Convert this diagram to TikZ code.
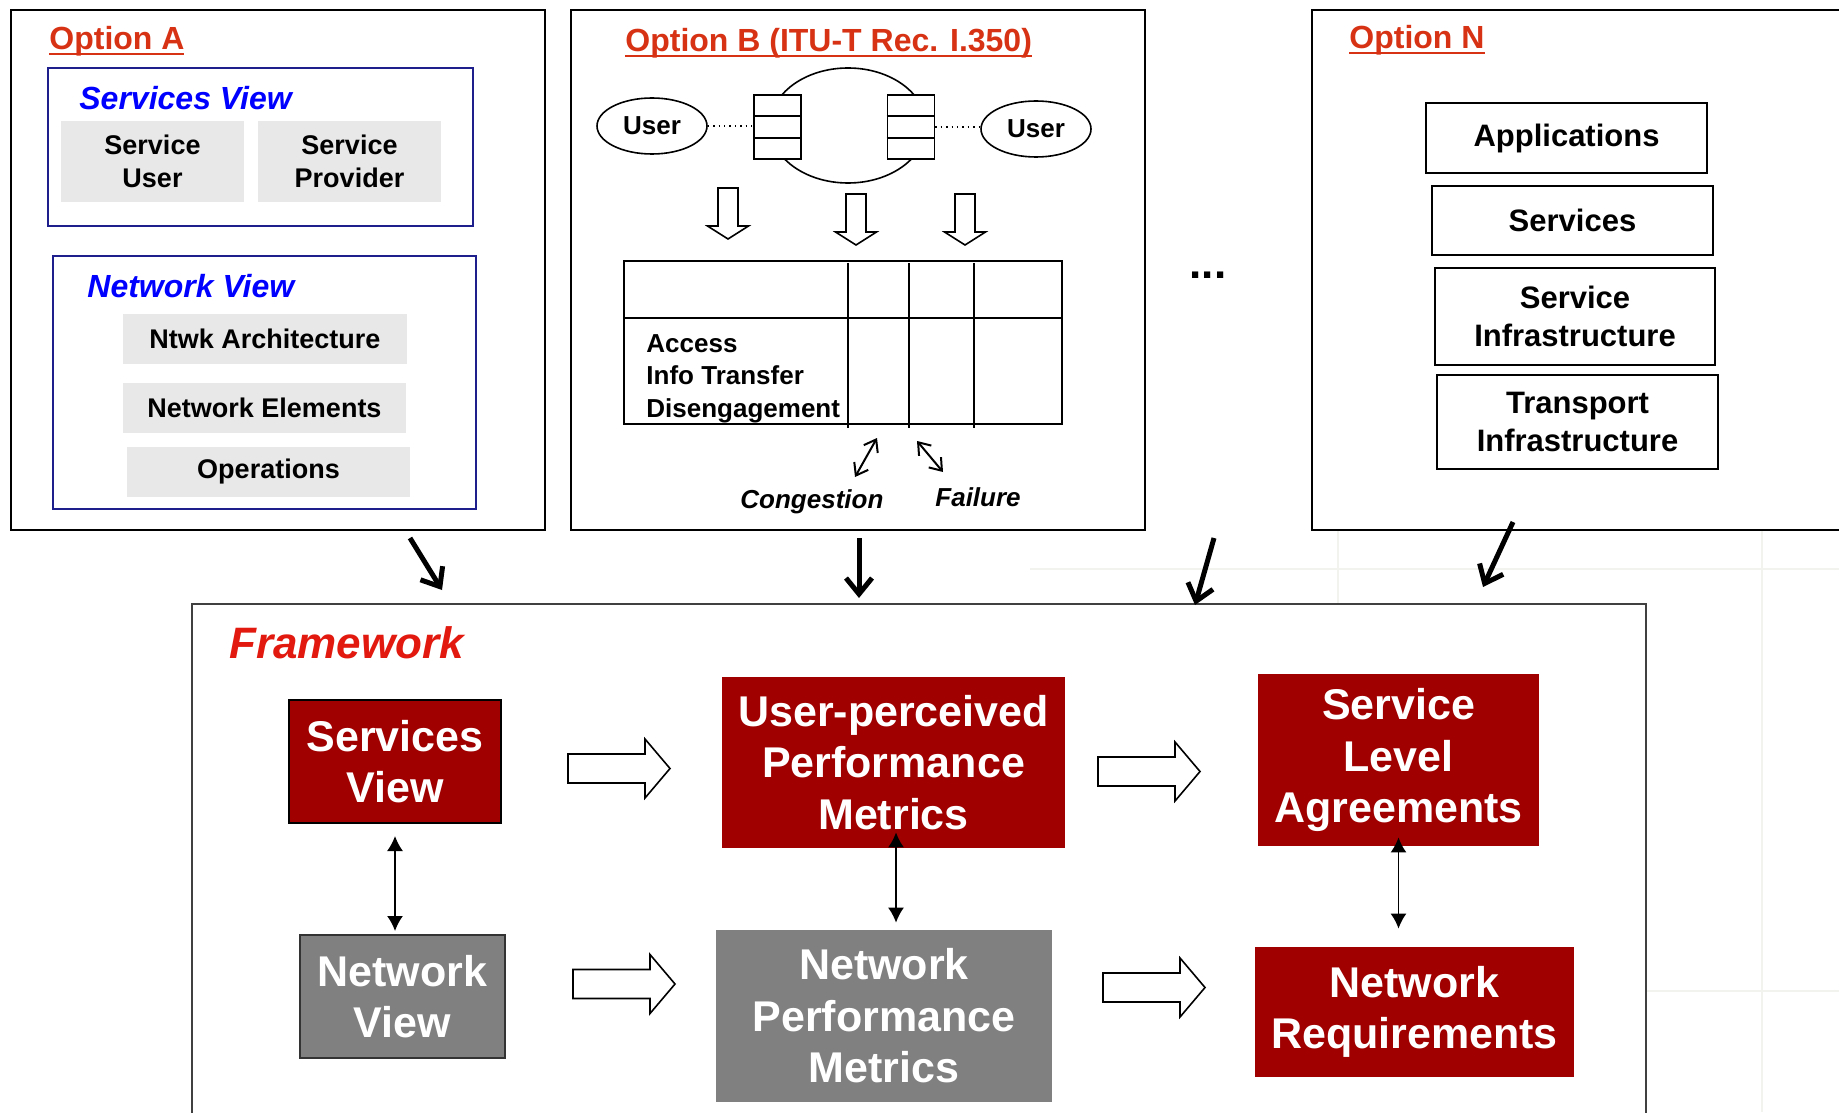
\documentclass[tikz,border=0pt]{standalone}
\usepackage{fontspec}
\setmainfont{Liberation Sans}
\usetikzlibrary{arrows.meta, positioning, shapes.geometric, calc}
\definecolor{darkred}{RGB}{160,0,0}
\definecolor{boxgray}{RGB}{128,128,128}
\definecolor{palegray}{RGB}{232,232,232}
\definecolor{titlered}{RGB}{215,50,20}
\definecolor{frameworkred}{RGB}{225,25,15}
\definecolor{viewblue}{RGB}{0,0,255}
\definecolor{navyline}{RGB}{30,30,140}
\definecolor{gridline}{RGB}{242,242,238}
% underline that sits close to the baseline
\newcommand{\optul}[1]{\setbox0\hbox{#1}\rlap{\rule[-2.4pt]{\wd0}{1.1pt}}\box0}
\tikzset{
  pics/fatarrow/.style args={#1/#2/#3/#4}{code={
    \draw[line width=0.8pt, fill=white, line join=miter]
      (0,-#2) -- ({#1-#4},-#2) -- ({#1-#4},-#3) -- (#1,0)
      -- ({#1-#4},#3) -- ({#1-#4},#2) -- (0,#2) -- cycle;
  }}
}

\begin{document}
\begin{tikzpicture}[x=0.5pt, y=-0.5pt,
    opt/.style={draw, line width=1pt, fill=white},
    ttl/.style={anchor=base west, inner sep=0pt, text=titlered,
                font=\fontsize{16}{19}\selectfont\bfseries},
    view/.style={anchor=base west, inner sep=0pt, text=viewblue,
                 font=\fontsize{16}{19}\selectfont\bfseries\itshape},
    viewbox/.style={draw=navyline, line width=1pt},
    gbox/.style={fill=palegray, inner sep=0pt, align=center,
                 font=\fontsize{13.5}{16.5}\selectfont\bfseries},
    layer/.style={draw, line width=1pt, inner sep=0pt, align=center,
                  font=\fontsize{15.5}{19}\selectfont\bfseries},
    usr/.style={draw, ellipse, line width=0.8pt, minimum width=55pt, minimum height=28pt,
                inner sep=0pt, font=\fontsize{13}{15}\selectfont\bfseries},
    queue/.style={draw, line width=0.8pt, fill=white, minimum width=23.5pt, minimum height=32pt},
    fwred/.style={fill=darkred, text=white, inner sep=0pt, align=center,
                  font=\fontsize{21.5}{25.75}\selectfont\bfseries},
    fwgray/.style={fill=boxgray, text=white, inner sep=0pt, align=center,
                   font=\fontsize{21.5}{25.75}\selectfont\bfseries},
    dbl/.style={{Latex[length=7.5pt,width=8pt]}-{Latex[length=7.5pt,width=8pt]}, line width=0.8pt},
    thk/.style={-{Straight Barb[length=8pt,width=13pt]}, line width=2.5pt},
    fault/.style={{Straight Barb[length=5.5pt,width=8pt]}-{Straight Barb[length=5.5pt,width=8pt]}, line width=1pt}
  ]
  \useasboundingbox (0,0) rectangle (1839,1112);

  % faint grid behind the boxes
  \draw[gridline, line width=1.2pt] (1030,569) -- (1839,569);
  \draw[gridline, line width=1.2pt] (1338,530) -- (1338,604);
  \draw[gridline, line width=1.2pt] (1762,530) -- (1762,1112);
  \draw[gridline, line width=1.2pt] (1646,991) -- (1839,991);

  % Option A
  \node[opt, minimum width=267pt, minimum height=259.5pt] (optA) at (278,270) {};
  \node[ttl] (ttlA) at (49,50) {\optul{Option A}};
  \node[viewbox, minimum width=212.5pt, minimum height=79pt] (svbox) at (260.5,147) {};
  \node[view] (svtitle) at (79,110) {Services View};
  \node[gbox, minimum width=91.5pt, minimum height=40.5pt] (suser) at (152.5,161.5) {Service\\User};
  \node[gbox, minimum width=91.5pt, minimum height=40.5pt] (sprov) at (349.5,161.5) {Service\\Provider};
  \node[viewbox, minimum width=211.5pt, minimum height=126.5pt] (nvbox) at (264.5,382.5) {};
  \node[view] (nvtitle) at (87,298) {Network View};
  \node[gbox, minimum width=142pt, minimum height=25pt] (narch) at (265,339) {Ntwk Architecture};
  \node[gbox, minimum width=141.5pt, minimum height=25pt] (nelem) at (264.5,408) {Network Elements};
  \node[gbox, minimum width=141.5pt, minimum height=25pt] (nops) at (268.5,472) {Operations};

  % Option B
  \node[opt, minimum width=287pt, minimum height=260pt] (optB) at (858,270) {};
  \node[ttl] (ttlB) at (625,52) {\optul{Option B (ITU-T Rec. I.350)}};
  \node[draw, ellipse, line width=0.8pt, minimum width=78pt, minimum height=57.5pt] (net) at (848,125.5) {};
  \node[queue] (qL) at (777.5,127) {};
  \node[queue] (qR) at (911,127) {};
  \foreach \q in {qL,qR}
    \foreach \k in {1,2}
      \draw[line width=0.8pt] ($(\q.north west)!\k/3!(\q.south west)$) -- ($(\q.north east)!\k/3!(\q.south east)$);
  \node[usr] (userL) at (652,126) {User};
  \node[usr] (userR) at (1036,129) {User};
  \draw[dotted, line width=0.7pt] (userL.east) -- (userL.east -| qL.west);
  \draw[dotted, line width=0.7pt] (qR.east) -- (qR.east -| userR.west);
  \pic[rotate=-90] at (728,188) {fatarrow={51/10/20.5/13}};
  \pic[rotate=-90] at (856,194) {fatarrow={51/10/20.5/13}};
  \pic[rotate=-90] at (965,194) {fatarrow={51/10/20.5/13}};
  \node[draw, line width=0.8pt, minimum width=219pt, minimum height=81.5pt] (tbl) at (843,342.5) {};
  \draw[line width=0.8pt] (tbl.west |- 0,318) -- (tbl.east |- 0,318);
  \foreach \vx in {848,909,974}
    \draw[line width=0.8pt] (\vx,263) -- (\vx,428);
  \node[anchor=north west, align=left, inner sep=0pt,
        font=\fontsize{13}{16.25}\selectfont\bfseries] (phases) at (646,334)
        {Access\\Info Transfer\\Disengagement};
  \coordinate (c1) at (855,477); \coordinate (c2) at (877,438);
  \coordinate (f1) at (917,441); \coordinate (f2) at (943,472);
  \draw[fault] (c1) -- (c2);
  \draw[fault] (f1) -- (f2);
  \node[anchor=base west, inner sep=0pt, font=\fontsize{13}{15}\selectfont\bfseries\itshape]
    (cong) at (740,508) {Congestion};
  \node[anchor=base west, inner sep=0pt, font=\fontsize{13}{15}\selectfont\bfseries\itshape]
    (fail) at (935,506) {Failure};

  % dots between options
  \node[anchor=base, inner sep=0pt, font=\fontsize{22}{26}\selectfont\bfseries] (dots) at (1208,279) {...};

  % Option N
  \node[opt, minimum width=294pt, minimum height=260pt] (optN) at (1606,270) {};
  \node[ttl] (ttlN) at (1349,49) {\optul{Option N}};
  \node[layer, minimum width=140.5pt, minimum height=35pt] (app) at (1566.5,138) {Applications};
  \node[layer, minimum width=140.5pt, minimum height=34.5pt] (svcs) at (1572.5,220.5) {Services};
  \node[layer, minimum width=140pt, minimum height=48.5pt] (sinf) at (1575,316.5) {Service\\Infrastructure};
  \node[layer, minimum width=140.5pt, minimum height=47pt] (tinf) at (1577.5,422) {Transport\\Infrastructure};

  % Framework
  \node[draw=black!75, line width=1pt, fill=white, minimum width=727pt, minimum height=273pt] (fwk) at (919,877) {};
  \node[anchor=base west, inner sep=0pt, text=frameworkred,
        font=\fontsize{22}{26}\selectfont\bfseries\itshape] (fwtitle) at (229,658) {Framework};
  \node[fwred, draw=black, line width=1pt, minimum width=106pt, minimum height=61.5pt] (svcview) at (395,761.5) {Services\\View};
  \node[fwgray, draw=black!80, line width=1pt, minimum width=102.5pt, minimum height=61.5pt] (netview) at (402.5,996.5) {Network\\View};
  \node[fwred, minimum width=171.5pt, minimum height=85.5pt] (upm) at (893.5,762.5) {User-perceived\\Performance\\Metrics};
  \node[fwgray, minimum width=168pt, minimum height=86pt] (npm) at (884,1016) {Network\\Performance\\Metrics};
  \node[fwred, minimum width=140.5pt, minimum height=86pt] (sla) at (1398.5,760) {Service\\Level\\Agreements};
  \node[fwred, minimum width=159.5pt, minimum height=65pt] (netreq) at (1414.5,1012) {Network\\Requirements};

  \pic at (568,768.5) {fatarrow={102/14.5/29.5/25}};
  \pic at (573,984) {fatarrow={102/14.5/29.5/25}};
  \pic at (1098,771.5) {fatarrow={102/14.5/29.5/25}};
  \pic at (1103,987.5) {fatarrow={102/14.5/29.5/25}};

  \draw[dbl] ([yshift=-6pt]svcview.south) -- ([yshift=1.5pt]svcview.south |- netview.north);
  \draw[dbl] ([xshift=1.25pt,yshift=8pt]upm.south) -- ([xshift=1.25pt,yshift=3.5pt]upm.south |- npm.north);
  \draw[dbl] ([yshift=4.5pt]sla.south) -- ([yshift=9pt]sla.south |- netreq.north);

  % options feeding the framework
  \coordinate (aA) at (410,538); \coordinate (tA) at (442,590);
  \coordinate (aB) at (859,538); \coordinate (tB) at (859,598);
  \coordinate (aD) at (1214,538); \coordinate (tD) at (1195,605);
  \coordinate (aN) at (1513,522); \coordinate (tN) at (1483,587);
  \draw[thk] (aA) -- (tA);
  \draw[thk] (aB) -- (tB);
  \draw[thk] (aD) -- (tD);
  \draw[thk] (aN) -- (tN);
\end{tikzpicture}
\end{document}
